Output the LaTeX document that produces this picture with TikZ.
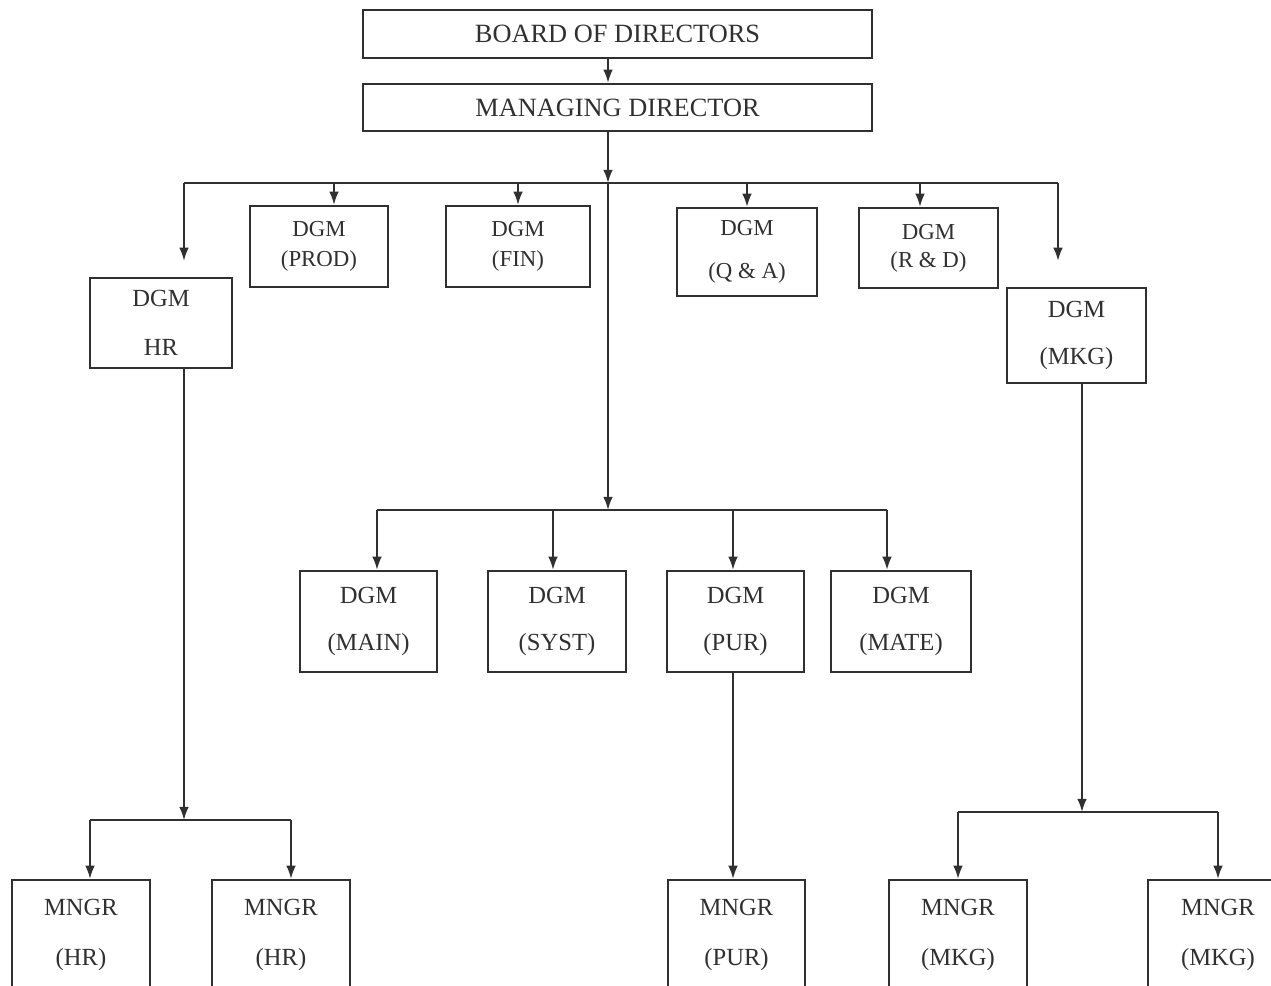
\documentclass[tikz,border=0pt]{standalone}
\usepackage{fontspec}
\setmainfont{Liberation Serif}
\usetikzlibrary{arrows.meta,positioning}
\definecolor{chart-gray}{HTML}{303030}

\begin{document}
\begin{tikzpicture}[x=0.02cm, y=-0.02cm,
  box/.style={draw=chart-gray, line width=1.3pt, align=center, inner sep=0pt, text=chart-gray, font=\fontsize{14}{17}\selectfont},
  smallbox/.style={box, font=\fontsize{13}{16}\selectfont},
  arr/.style={-{Latex[length=7.5pt,width=5.5pt]}, line width=1.1pt, color=chart-gray},
  conn/.style={-, line width=1.1pt, color=chart-gray}]
\useasboundingbox (0,0) rectangle (1271,985);
\clip (0,0) rectangle (1271,985);

% top
\node[box, minimum width=10.18cm, minimum height=0.96cm, font=\fontsize{15}{17}\selectfont] (board) at (617.5,34) {BOARD OF DIRECTORS};
\node[box, minimum width=10.18cm, minimum height=0.94cm, font=\fontsize{15}{17}\selectfont] (md) at (617.5,107.5) {MANAGING DIRECTOR};

% first row
\node[box, minimum width=2.84cm, minimum height=1.8cm] (hr) at (161,323) {DGM\\[0.38cm]HR};
\node[smallbox, minimum width=2.76cm, minimum height=1.62cm] (prod) at (319,246.5) {DGM\\[0.04cm](PROD)};
\node[smallbox, minimum width=2.88cm, minimum height=1.62cm] (fin) at (518,246.5) {DGM\\[0.04cm](FIN)};
\node[smallbox, minimum width=2.8cm, minimum height=1.76cm] (qa) at (747,252) {DGM\\[0.3cm](Q \& A)};
\node[smallbox, minimum width=2.78cm, minimum height=1.6cm] (rd) at (928.5,248) {DGM\\(R \& D)};
\node[box, minimum width=2.78cm, minimum height=1.9cm] (mkg) at (1076.5,335.5) {DGM\\[0.36cm](MKG)};

% second row
\node[box, minimum width=2.74cm, minimum height=2.02cm] (main) at (368.5,621.5) {DGM\\[0.36cm](MAIN)};
\node[box, minimum width=2.76cm, minimum height=2.02cm] (syst) at (557,621.5) {DGM\\[0.36cm](SYST)};
\node[box, minimum width=2.74cm, minimum height=2.02cm] (pur) at (735.5,621.5) {DGM\\[0.36cm](PUR)};
\node[box, minimum width=2.8cm, minimum height=2.02cm] (mate) at (901,621.5) {DGM\\[0.36cm](MATE)};

% managers
\node[box, minimum width=2.76cm, minimum height=2.2cm] (mhra) at (81,935) {MNGR\\[0.4cm](HR)};
\node[box, minimum width=2.76cm, minimum height=2.2cm] (mhrb) at (281,935) {MNGR\\[0.4cm](HR)};
\node[box, minimum width=2.74cm, minimum height=2.2cm] (mpur) at (736.5,935) {MNGR\\[0.4cm](PUR)};
\node[box, minimum width=2.76cm, minimum height=2.2cm] (mmkga) at (958,935) {MNGR\\[0.4cm](MKG)};
\node[box, minimum width=2.8cm, minimum height=2.2cm] (mmkgb) at (1218,935) {MNGR\\[0.4cm](MKG)};

\coordinate (bus1) at (608,183);
\coordinate (bus2) at (608,510);
\coordinate (bus3) at (184,820);
\coordinate (bus4) at (1082,812);

\draw[arr] (board.south -| bus1) -- (md.north -| bus1);
\draw[arr] (md.south -| bus1) -- (bus1);
\draw[conn] ([xshift=0.46cm]hr.north |- bus1) -- ([xshift=-0.37cm]mkg.north |- bus1);
\draw[arr] ([xshift=0.46cm]hr.north |- bus1) -- ([xshift=0.46cm,yshift=0.32cm]hr.north);
\draw[arr] ([xshift=0.3cm]prod.north |- bus1) -- ([xshift=0.3cm]prod.north);
\draw[arr] (fin.north |- bus1) -- (fin.north);
\draw[arr] (qa.north |- bus1) -- (qa.north);
\draw[arr] ([xshift=-0.17cm]rd.north |- bus1) -- ([xshift=-0.17cm]rd.north);
\draw[arr] ([xshift=-0.37cm]mkg.north |- bus1) -- ([xshift=-0.37cm,yshift=0.52cm]mkg.north);

\draw[arr] (bus1) -- (bus2);
\draw[conn] ([xshift=0.17cm]main.north |- bus2) -- ([xshift=-0.28cm]mate.north |- bus2);
\draw[arr] ([xshift=0.17cm]main.north |- bus2) -- ([xshift=0.17cm]main.north);
\draw[arr] ([xshift=-0.08cm]syst.north |- bus2) -- ([xshift=-0.08cm]syst.north);
\draw[arr] ([xshift=-0.05cm]pur.north |- bus2) -- ([xshift=-0.05cm]pur.north);
\draw[arr] ([xshift=-0.28cm]mate.north |- bus2) -- ([xshift=-0.28cm]mate.north);

\draw[arr] (hr.south -| bus3) -- (bus3);
\draw[conn] ([xshift=0.18cm]mhra.north |- bus3) -- ([xshift=0.2cm]mhrb.north |- bus3);
\draw[arr] ([xshift=0.18cm]mhra.north |- bus3) -- ([xshift=0.18cm]mhra.north);
\draw[arr] ([xshift=0.2cm]mhrb.north |- bus3) -- ([xshift=0.2cm]mhrb.north);

\draw[arr] ([xshift=-0.05cm]pur.south) -- ([xshift=-0.05cm]pur.south |- mpur.north);

\draw[arr] (mkg.south -| bus4) -- (bus4);
\draw[conn] (mmkga.north |- bus4) -- (mmkgb.north |- bus4);
\draw[arr] (mmkga.north |- bus4) -- (mmkga.north);
\draw[arr] (mmkgb.north |- bus4) -- (mmkgb.north);
\end{tikzpicture}
\end{document}
